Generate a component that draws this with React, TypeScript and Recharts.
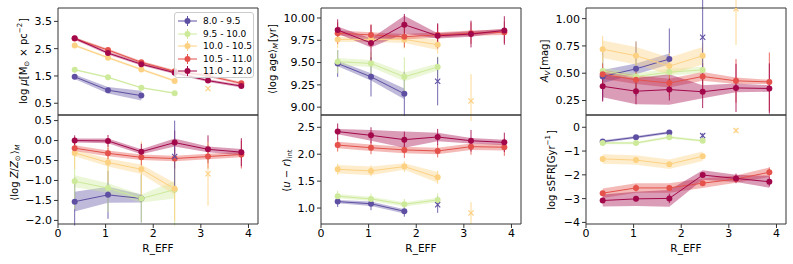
import React from "react";
import { ComposedChart, Line, Area, XAxis, YAxis, ErrorBar } from "recharts";

// radial bins (in units of R_eff)
const R_EFF = [0.35, 1.05, 1.75, 2.45, 3.15, 3.85];
const MASS_BINS = ["8.0 - 9.5", "9.5 - 10.0", "10.0 - 10.5", "10.5 - 11.0", "11.0 - 12.0"];
const COLORS = ["#5e4fa2", "#cdea9a", "#fdd182", "#e4524b", "#a3084b"];
const X_TICKS = [0, 1, 2, 3, 4];

// log mu [Msun pc^-2]
const muMean = [
  [1.47, 0.98, 0.78],
  [1.73, 1.45, 1.07, 0.87],
  [2.62, 2.17, 1.74, 1.32],
  [2.87, 2.45, 2.0, 1.67, 1.51, 1.23],
  [2.88, 2.34, 1.93, 1.62, 1.33, 1.13],
];
const muBand = [
  [0.08, 0.12, 0.18],
  [0.03, 0.03, 0.03, 0.03],
  [0.04, 0.04, 0.04, 0.04],
  [0.05, 0.05, 0.05, 0.05, 0.05, 0.05],
  [0.05, 0.05, 0.05, 0.05, 0.05, 0.05],
];
const muErr = [
  [0.05, 0.05, 0.06],
  [0.04, 0.04, 0.04, 0.04],
  [0.04, 0.04, 0.04, 0.04],
  [0.05, 0.05, 0.05, 0.05, 0.06, 0.06],
  [0.05, 0.05, 0.05, 0.05, 0.06, 0.06],
];
const muOut = [null, null, [3.15, 1.04, 0.07], null, null];
const muTicks = [0.5, 1.5, 2.5, 3.5];

// <log age>_M [yr]
const ageMean = [
  [9.49, 9.34, 9.15],
  [9.51, 9.49, 9.34, 9.45],
  [9.76, 9.76, 9.76, 9.7],
  [9.83, 9.81, 9.79, 9.81, 9.83, 9.84],
  [9.865, 9.72, 9.925, 9.8, 9.82, 9.86],
];
const ageBand = [
  [0.03, 0.04, 0.06],
  [0.04, 0.04, 0.05, 0.04],
  [0.03, 0.03, 0.04, 0.06],
  [0.03, 0.03, 0.03, 0.03, 0.03, 0.03],
  [0.04, 0.05, 0.1, 0.03, 0.03, 0.02],
];
const ageErr = [
  [0.15, 0.22, 0.25],
  [0.13, 0.13, 0.22, 0.12],
  [0.1, 0.1, 0.1, 0.1],
  [0.12, 0.12, 0.12, 0.12, 0.12, 0.12],
  [0.12, 0.2, 0.12, 0.14, 0.15, 0.16],
];
const ageOut = [[2.45, 9.29, 0.27], null, [3.15, 9.07, 0.3], null, null];
const ageTicks = [9.0, 9.25, 9.5, 9.75, 10.0];

// A_V [mag]
const avMean = [
  [0.47, 0.54, 0.63],
  [0.52, 0.47, 0.51, 0.53],
  [0.72, 0.66, 0.565, 0.66],
  [0.49, 0.44, 0.41, 0.47, 0.43, 0.42],
  [0.38, 0.335, 0.35, 0.33, 0.365, 0.36],
];
const avBand = [
  [0.06, 0.05, 0.05],
  [0.03, 0.03, 0.03, 0.03],
  [0.08, 0.08, 0.08, 0.08],
  [0.04, 0.04, 0.04, 0.04, 0.03, 0.02],
  [0.1, 0.12, 0.14, 0.06, 0.04, 0.03],
];
const avErr = [
  [0.22, 0.25, 0.28],
  [0.15, 0.15, 0.15, 0.15],
  [0.12, 0.13, 0.12, 0.12],
  [0.1, 0.1, 0.12, 0.12, 0.2, 0.27],
  [0.14, 0.12, 0.1, 0.15, 0.22, 0.23],
];
const avOut = [[2.45, 0.83, 0.35], null, [3.15, 1.09, 0.33], null, null];
const avTicks = [0.25, 0.5, 0.75, 1.0];

// <log Z/Zsun>_M
const zMean = [
  [-1.53, -1.36, -1.45],
  [-1.02, -1.19, -1.45, -1.23],
  [-0.31, -0.55, -0.72, -1.21],
  [-0.19, -0.32, -0.42, -0.45, -0.4, -0.35],
  [0.0, -0.01, -0.28, -0.05, -0.22, -0.29],
];
const zBand = [
  [0.25, 0.2, 0.1],
  [0.15, 0.12, 0.1, 0.22],
  [0.08, 0.1, 0.12, 0.15],
  [0.07, 0.07, 0.07, 0.07, 0.07, 0.07],
  [0.05, 0.06, 0.06, 0.1, 0.07, 0.08],
];
const zErr = [
  [0.6, 0.6, 0.6],
  [0.7, 0.6, 0.6, 0.9],
  [0.4, 0.5, 0.7, 0.8],
  [0.15, 0.15, 0.2, 0.25, 0.3, 0.35],
  [0.13, 0.15, 0.2, 0.3, 0.35, 0.35],
];
const zOut = [[2.45, -0.4, 0.9], null, [3.15, -0.83, 0.8], null, null];
const zTicks = [-2.0, -1.5, -1.0, -0.5, 0.0, 0.5];

// (u - r)_int
const urMean = [
  [1.12, 1.08, 0.94],
  [1.22, 1.17, 1.07, 1.15],
  [1.72, 1.69, 1.77, 1.57],
  [2.17, 2.12, 2.08, 2.06, 2.14, 2.13],
  [2.42, 2.35, 2.27, 2.32, 2.25, 2.22],
];
const urBand = [
  [0.03, 0.04, 0.04],
  [0.04, 0.04, 0.04, 0.04],
  [0.08, 0.08, 0.06, 0.1],
  [0.06, 0.06, 0.06, 0.06, 0.06, 0.06],
  [0.05, 0.1, 0.15, 0.08, 0.05, 0.05],
];
const urErr = [
  [0.1, 0.12, 0.1],
  [0.1, 0.1, 0.1, 0.12],
  [0.1, 0.1, 0.1, 0.12],
  [0.12, 0.12, 0.15, 0.12, 0.15, 0.16],
  [0.15, 0.15, 0.15, 0.15, 0.2, 0.18],
];
const urOut = [[2.45, 1.06, 0.15], null, [3.15, 0.91, 0.2], null, null];
const urTicks = [1.0, 1.5, 2.0, 2.5];

// log sSFR [Gyr^-1]
const ssfrMean = [
  [-0.6, -0.42, -0.22],
  [-0.66, -0.66, -0.42, -0.57],
  [-1.33, -1.38, -1.55, -1.22],
  [-2.77, -2.55, -2.55, -2.35, -2.18, -1.89],
  [-3.08, -3.01, -2.99, -2.01, -2.15, -2.29],
];
const ssfrBand = [
  [0.05, 0.05, 0.05],
  [0.05, 0.05, 0.05, 0.05],
  [0.2, 0.2, 0.2, 0.2],
  [0.2, 0.2, 0.2, 0.2, 0.15, 0.2],
  [0.25, 0.3, 0.35, 0.2, 0.15, 0.25],
];
const ssfrErr = [
  [0.05, 0.05, 0.05],
  [0.05, 0.05, 0.05, 0.05],
  [0.05, 0.05, 0.05, 0.05],
  [0.1, 0.15, 0.1, 0.1, 0.1, 0.2],
  [0.1, 0.1, 0.2, 0.1, 0.2, 0.2],
];
const ssfrOut = [[2.45, -0.35, 0.1], null, [3.15, -0.14, 0.1], null, null];
const ssfrTicks = [-4, -3, -2, -1, 0];

function buildRows(mean: number[][], band: number[][], err: number[][], out: any[]) {
  return R_EFF.map((r, i) => {
    const row: any = { r };
    mean.forEach((m, s) => {
      const v = m[i];
      if (v != null) {
        row[`m${s}`] = v;
        row[`b${s}`] = [v - band[s][i], v + band[s][i]];
        row[`e${s}`] = err[s][i];
      }
      const o = out[s];
      if (o && o[0] === r) {
        row[`o${s}`] = o[1];
        row[`oe${s}`] = o[2];
      }
    });
    return row;
  });
}

const fmt = (d: number) => (v: number) => v.toFixed(d).replace("-", "\u2212");

const AXIS = "#333";
const FONT = "DejaVu Sans";

const XMark = (color: string) => (props: any) => {
  const { cx, cy, key } = props;
  if (cx == null || cy == null || isNaN(cy)) return <g key={key} />;
  const s = 2.6;
  return (
    <path
      key={key}
      d={`M${cx - s},${cy - s}L${cx + s},${cy + s}M${cx - s},${cy + s}L${cx + s},${cy - s}`}
      stroke={color}
      strokeWidth={1.1}
      fill="none"
    />
  );
};

function Panel({ cfg }: { cfg: any }) {
  const rows = buildRows(cfg.mean, cfg.band, cfg.err, cfg.out);
  const plotW = 200;
  const xh = cfg.bottom ? 30 : 6;
  const mt = cfg.y - cfg.top - 1;
  const width = cfg.yw + plotW + 1 + 3;
  const height = cfg.top === 0 ? cfg.y + cfg.h + xh : 1 + cfg.h + xh;
  return (
    <div style={{ position: "absolute", left: cfg.x - cfg.yw, top: cfg.top }}>
      <ComposedChart width={width} height={height} data={rows} margin={{ top: mt, right: 3, bottom: 0, left: 0 }}>
        <XAxis
          dataKey="r"
          type="number"
          domain={[0, 4.2]}
          ticks={X_TICKS}
          allowDataOverflow
          height={xh}
          tickSize={4}
          tickMargin={1}
          stroke={AXIS}
          tick={cfg.bottom ? { fill: "#000", fontSize: 11, fontFamily: FONT } : false}
        />
        <XAxis xAxisId="top" orientation="top" dataKey="r" type="number" domain={[0, 4.2]} allowDataOverflow height={1} tick={false} tickLine={false} stroke={AXIS} />
        <YAxis
          type="number"
          domain={cfg.domain}
          ticks={cfg.ticks}
          allowDataOverflow
          width={cfg.yw}
          tickSize={4}
          tickMargin={2}
          stroke={AXIS}
          tickFormatter={fmt(cfg.digits)}
          tick={{ fill: "#000", fontSize: 11, fontFamily: FONT }}
        />
        <YAxis yAxisId="right" orientation="right" type="number" domain={cfg.domain} allowDataOverflow width={1} tick={false} tickLine={false} stroke={AXIS} />
        {MASS_BINS.map((_, s) => (
          <Area
            key={`b${s}`}
            type="linear"
            dataKey={`b${s}`}
            stroke="none"
            fill={COLORS[s]}
            fillOpacity={0.4}
            isAnimationActive={false}
            activeDot={false}
          />
        ))}
        {MASS_BINS.map((_, s) => (
          <Line
            key={`m${s}`}
            type="linear"
            dataKey={`m${s}`}
            stroke={COLORS[s]}
            strokeWidth={1}
            dot={{ r: 3, fill: COLORS[s], stroke: COLORS[s], strokeWidth: 0 }}
            activeDot={false}
            isAnimationActive={false}
          >
            <ErrorBar dataKey={`e${s}`} width={0} stroke={COLORS[s]} strokeWidth={1} strokeOpacity={0.85} direction="y" isAnimationActive={false} />
          </Line>
        ))}
        {MASS_BINS.map((_, s) => (
          <Line
            key={`o${s}`}
            type="linear"
            dataKey={`o${s}`}
            stroke="none"
            strokeWidth={0}
            dot={XMark(COLORS[s])}
            activeDot={false}
            isAnimationActive={false}
          >
            <ErrorBar dataKey={`oe${s}`} width={0} stroke={COLORS[s]} strokeWidth={1} strokeOpacity={0.85} direction="y" isAnimationActive={false} />
          </Line>
        ))}
      </ComposedChart>
    </div>
  );
}

const panels = [
  { mean: muMean, band: muBand, err: muErr, out: muOut, ticks: muTicks, domain: [0.07, 3.99], digits: 1, x: 58, y: 8, top: 0, h: 107, yw: 58, bottom: false },
  { mean: ageMean, band: ageBand, err: ageErr, out: ageOut, ticks: ageTicks, domain: [8.912, 10.112], digits: 2, x: 321, y: 8, top: 0, h: 107, yw: 59, bottom: false },
  { mean: avMean, band: avBand, err: avErr, out: avOut, ticks: avTicks, domain: [0.117, 1.0975], digits: 2, x: 586, y: 8, top: 0, h: 107, yw: 59, bottom: false },
  { mean: zMean, band: zBand, err: zErr, out: zOut, ticks: zTicks, domain: [-2.09, 0.64], digits: 1, x: 58, y: 115, top: 114, h: 109, yw: 58, bottom: true },
  { mean: urMean, band: urBand, err: urErr, out: urOut, ticks: urTicks, domain: [0.704, 2.728], digits: 1, x: 321, y: 115, top: 114, h: 109, yw: 59, bottom: true },
  { mean: ssfrMean, band: ssfrBand, err: ssfrErr, out: ssfrOut, ticks: ssfrTicks, domain: [-4.067, 0.516], digits: 0, x: 586, y: 115, top: 114, h: 109, yw: 59, bottom: true },
];

const Sub = ({ children, italic }: any) => (
  <>
    <tspan fontSize={7} dy={2.5} fontStyle={italic ? "italic" : "normal"}>{children}</tspan>
    <tspan dy={-2.5}>{"\u200a"}</tspan>
  </>
);
const Sup = ({ children }: any) => (
  <>
    <tspan fontSize={7} dy={-4}>{children}</tspan>
    <tspan dy={4}>{"\u200a"}</tspan>
  </>
);

const YTitle = ({ x, y, children }: any) => (
  <text x={x} y={y} transform={`rotate(-90 ${x} ${y})`} textAnchor="middle" dominantBaseline="middle" fontSize={10} fontFamily={FONT} fill="#000">
    {children}
  </text>
);

function Titles() {
  return (
    <svg width={793} height={264} style={{ position: "absolute", left: 0, top: 0, pointerEvents: "none" }}>
      <YTitle x={24} y={61}>
        log <tspan fontStyle="italic">μ</tspan>[M<Sub>⊙</Sub> × pc<Sup>−2</Sup>]
      </YTitle>
      <YTitle x={273} y={59}>
        ⟨log age⟩<Sub italic>M</Sub>[yr]
      </YTitle>
      <YTitle x={545} y={61}>
        <tspan fontStyle="italic">A</tspan><Sub italic>V</Sub>[mag]
      </YTitle>
      <YTitle x={15} y={172}>
        ⟨log <tspan fontStyle="italic">Z</tspan>/<tspan fontStyle="italic">Z</tspan><Sub>⊙</Sub>⟩<Sub italic>M</Sub>
      </YTitle>
      <YTitle x={287} y={170}>
        (<tspan fontStyle="italic">u</tspan> − <tspan fontStyle="italic">r</tspan>)<Sub>int</Sub>
      </YTitle>
      <YTitle x={552} y={170}>
        log sSFR[Gyr<Sup>−1</Sup>]
      </YTitle>
      {[158, 421, 686].map((cx) => (
        <text key={cx} x={cx} y={252} textAnchor="middle" fontSize={10.5} fontFamily={FONT} fill="#000">
          R_EFF
        </text>
      ))}
    </svg>
  );
}

function MassLegend() {
  return (
    <div
      style={{
        position: "absolute",
        left: 174,
        top: 12,
        width: 80,
        height: 66,
        boxSizing: "border-box",
        border: "1px solid #cccccc",
        borderRadius: 3,
        background: "rgba(255,255,255,0.8)",
        fontFamily: FONT,
        fontSize: 9,
        paddingTop: 2,
      }}
    >
      {MASS_BINS.map((name, s) => (
        <div key={name} style={{ display: "flex", alignItems: "center", height: 12.5 }}>
          <svg width={26} height={12} style={{ marginLeft: 2 }}>
            <line x1={1} y1={6} x2={20} y2={6} stroke={COLORS[s]} strokeWidth={1} />
            <line x1={10.5} y1={1} x2={10.5} y2={11} stroke={COLORS[s]} strokeWidth={1} />
            <circle cx={10.5} cy={6} r={3} fill={COLORS[s]} />
          </svg>
          <span style={{ color: "#000" }}>{name}</span>
        </div>
      ))}
    </div>
  );
}

export default function App() {
  return (
    <div style={{ position: "absolute", left: 0, top: 0, width: 793, height: 264, background: "#fff", fontFamily: FONT }}>
      {panels.map((cfg, i) => (
        <Panel key={i} cfg={cfg} />
      ))}
      <Titles />
      <MassLegend />
    </div>
  );
}
